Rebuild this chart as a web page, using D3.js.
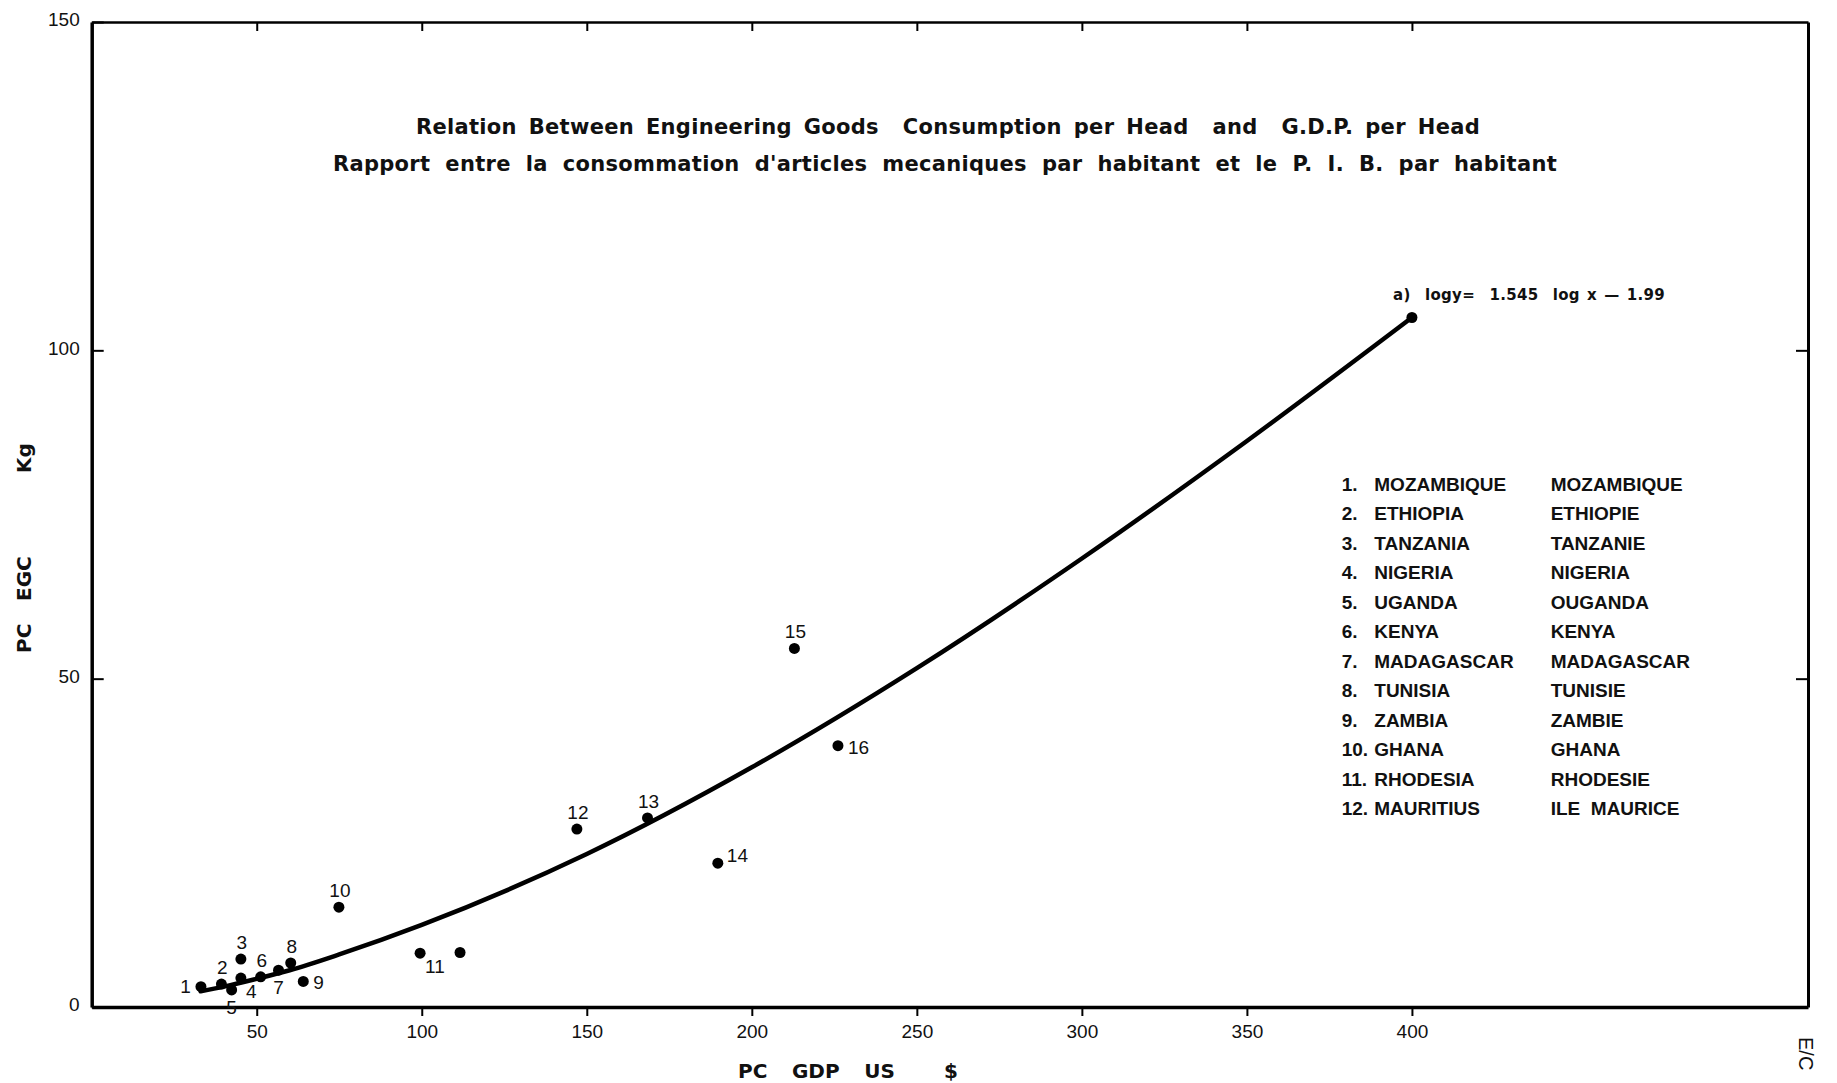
<!DOCTYPE html>
<html>
<head>
<meta charset="utf-8">
<script src="https://cdn.jsdelivr.net/npm/d3@7"></script>
<style>
  html, body { margin: 0; padding: 0; background: #fff; }
  svg { display: block; }
  text { fill: #111; font-family: "Liberation Sans", Arial, sans-serif; }
  .tick text { font-size: 19px; }
  .bold { font-weight: bold; }
  .heavy { font-family: "DejaVu Sans", sans-serif; font-weight: bold; white-space: pre; }
</style>
</head>
<body>
<div id="container"></div>
<script>
const w = 1837;
const h = 1083;

// countries, numbered 1..16 on the chart
const pointIds = ["1", "2", "3", "4", "5", "6", "7", "8", "9", "10", "11", "12", "13", "14", "15", "16"];
const gdpPerHead = [33.1, 39.3, 45.2, 45.2, 42.4, 51.2, 56.6, 60.3, 64.1, 74.9, 99.5, 147, 168.4, 189.7, 212.9, 226.1];
const egcPerHead = [3.1, 3.5, 7.3, 4.4, 2.6, 4.6, 5.6, 6.7, 3.9, 15.2, 8.2, 27.1, 28.8, 21.9, 54.6, 39.8];
// where each number sits relative to its dot
const labelSide = ["l", "a", "a", "br", "b", "a", "b", "a", "r", "a", "br", "a", "a", "ar", "a", "r"];

// one extra, unnumbered dot next to 11
const extraGdp = [111.6];
const extraEgc = [8.3];

// fitted curve a) log y = 1.545 log x - 1.99
const curveGdp = [33, 40, 50, 60, 75, 100, 150, 200, 250, 300, 350, 400];
const curveEgc = [2.4, 3.1, 4.3, 5.6, 8.0, 12.5, 23.3, 36.5, 51.6, 68.3, 86.2, 105.0];

const xTicks = [50, 100, 150, 200, 250, 300, 350, 400];
const yTicks = [0, 50, 100, 150];
const rightTicks = [50, 100];

const legendEn = ["MOZAMBIQUE", "ETHIOPIA", "TANZANIA", "NIGERIA", "UGANDA", "KENYA",
  "MADAGASCAR", "TUNISIA", "ZAMBIA", "GHANA", "RHODESIA", "MAURITIUS"];
const legendFr = ["MOZAMBIQUE", "ETHIOPIE", "TANZANIE", "NIGERIA", "OUGANDA", "KENYA",
  "MADAGASCAR", "TUNISIE", "ZAMBIE", "GHANA", "RHODESIE", "ILE  MAURICE"];

const titleEn = "Relation Between Engineering Goods  Consumption per Head  and  G.D.P. per Head";
const titleFr = "Rapport entre la consommation d'articles mecaniques par habitant et le P. I. B. par habitant";
const equation = "a)  logy=  1.545  log x \u2014 1.99";
const yTitle = ["PC", "EGC", "Kg"];
const xTitle = "PC  GDP  US    $";

const padL = 91.7, padR = 1808, padT = 22, padB = 1007;

const svg = d3.select("#container")
  .append("svg")
  .attr("width", w)
  .attr("height", h);

const xScale = d3.scaleLinear().domain([0, 520]).range([padL, padR]);
const yScale = d3.scaleLinear().domain([0, 150]).range([padB, padT]);

// stretch the gaps between words so a line spans the given width
function fitWords(sel, width) {
  const natural = sel.node().getComputedTextLength();
  const gaps = (sel.text().match(/ /g) || []).length;
  if (gaps && width > natural) sel.style("word-spacing", (width - natural) / gaps + "px");
  return sel;
}

// frame: top and right edges with inward ticks
const topAxis = d3.axisBottom(xScale).tickValues(xTicks).tickSize(9).tickSizeOuter(0).tickFormat("");
svg.append("g")
  .attr("transform", `translate(0, ${padT})`)
  .call(topAxis)
  .call(g => g.select(".domain").attr("stroke-width", 2.5))
  .call(g => g.selectAll(".tick line").attr("stroke-width", 2));

const rightAxis = d3.axisLeft(yScale).tickValues(rightTicks).tickSize(12).tickSizeOuter(0).tickFormat("");
svg.append("g")
  .attr("transform", `translate(${padR}, 0)`)
  .call(rightAxis)
  .call(g => g.select(".domain").attr("stroke-width", 3))
  .call(g => g.selectAll(".tick line").attr("stroke-width", 2));

const xAxis = d3.axisBottom(xScale).tickValues(xTicks).tickSize(9).tickSizeOuter(0).tickPadding(9);
svg.append("g")
  .attr("transform", `translate(0, ${padB})`)
  .call(xAxis)
  .call(g => g.select(".domain").attr("stroke-width", 3.5))
  .call(g => g.selectAll(".tick line").attr("stroke-width", 2));

const yAxis = d3.axisLeft(yScale).tickValues(yTicks).tickSizeInner(-12).tickSizeOuter(0).tickPadding(12);
svg.append("g")
  .attr("transform", `translate(${padL}, 0)`)
  .call(yAxis)
  .call(g => g.select(".domain").attr("stroke-width", 3.5))
  .call(g => g.selectAll(".tick line").attr("stroke-width", 2))
  .call(g => g.selectAll(".tick text").attr("dy", "0.2em"));
svg.selectAll(".tick text").attr("fill", "#111");

// fitted curve
const line = d3.line()
  .x(d => xScale(d[0]))
  .y(d => yScale(d[1]))
  .curve(d3.curveMonotoneX);
svg.append("path")
  .datum(d3.zip(curveGdp, curveEgc))
  .attr("d", line)
  .attr("fill", "none")
  .attr("stroke", "#000")
  .attr("stroke-width", 4.5)
  .attr("stroke-linecap", "round");
svg.append("circle")
  .attr("cx", xScale(curveGdp[curveGdp.length - 1]))
  .attr("cy", yScale(curveEgc[curveEgc.length - 1]))
  .attr("r", 5.5);

// countries
const points = pointIds.map((id, i) => ({ id, x: gdpPerHead[i], y: egcPerHead[i], side: labelSide[i] }));
svg.selectAll("circle.pt")
  .data(points.concat(extraGdp.map((x, i) => ({ id: "", x, y: extraEgc[i] }))))
  .enter()
  .append("circle")
  .attr("class", "pt")
  .attr("cx", d => xScale(d.x))
  .attr("cy", d => yScale(d.y))
  .attr("r", 5.5);

const offsets = {
  l: [-10, 6, "end"],
  a: [1, -10, "middle"],
  b: [0, 24, "middle"],
  r: [10, 8, "start"],
  br: [5, 20, "start"],
  ar: [9, -1, "start"]
};
svg.selectAll("text.pt")
  .data(points)
  .enter()
  .append("text")
  .attr("class", "pt")
  .attr("x", d => xScale(d.x) + offsets[d.side][0])
  .attr("y", d => yScale(d.y) + offsets[d.side][1])
  .attr("text-anchor", d => offsets[d.side][2])
  .style("font-size", "19px")
  .text(d => d.id);

// titles
svg.append("text")
  .attr("class", "heavy")
  .attr("x", 416).attr("y", 134)
  .style("font-size", "21px")
  .style("letter-spacing", "0.3px")
  .text(titleEn)
  .call(s => fitWords(s, 1064));
svg.append("text")
  .attr("class", "heavy")
  .attr("x", 333).attr("y", 171)
  .style("font-size", "21px")
  .style("letter-spacing", "0.3px")
  .text(titleFr)
  .call(s => fitWords(s, 1224));

svg.append("text")
  .attr("class", "heavy")
  .attr("x", 1393).attr("y", 300)
  .style("font-size", "15px")
  .style("letter-spacing", "0.3px")
  .text(equation)
  .call(s => fitWords(s, 272));

// legend
const legend = svg.append("g").attr("class", "bold").style("font-size", "19px");
legendEn.forEach((name, i) => {
  const y = 490.7 + i * 29.5;
  legend.append("text").attr("x", 1341.7).attr("y", y).text((i + 1) + ".");
  legend.append("text").attr("x", 1374.3).attr("y", y).text(name);
  legend.append("text").attr("x", 1550.7).attr("y", y).style("white-space", "pre").text(legendFr[i]);
});

// axis titles
const yLab = svg.append("text")
  .attr("class", "heavy")
  .attr("transform", "translate(31, 653) rotate(-90)")
  .style("font-size", "20px");
yLab.selectAll("tspan")
  .data(yTitle)
  .enter()
  .append("tspan")
  .attr("x", (d, i) => [0, 52, 180][i])
  .text(d => d);

svg.append("text")
  .attr("class", "heavy")
  .attr("x", 738).attr("y", 1078)
  .style("font-size", "20px")
  .text(xTitle)
  .call(s => fitWords(s, 220));

svg.append("text")
  .attr("transform", "translate(1799, 1037) rotate(90)")
  .style("font-size", "20px")
  .text("E/C");
</script>
</body>
</html>
